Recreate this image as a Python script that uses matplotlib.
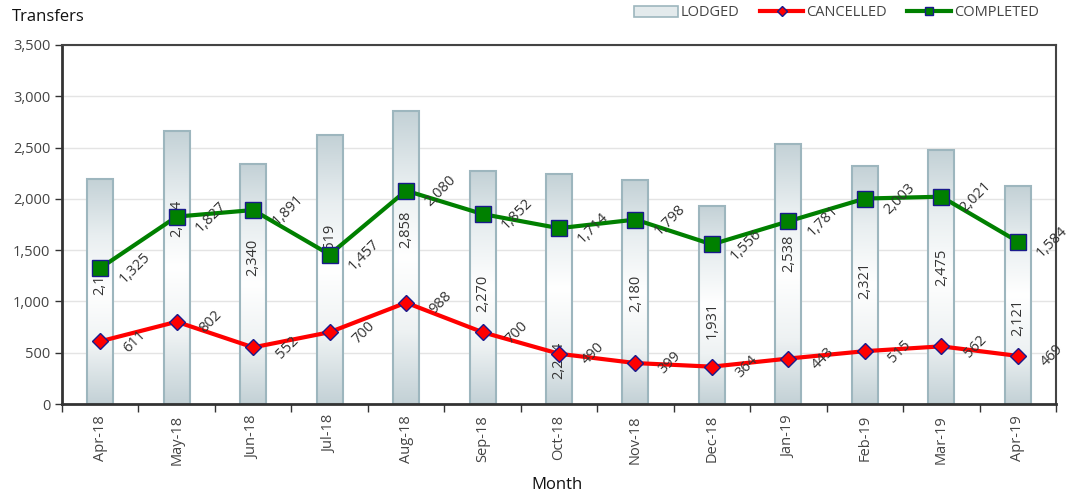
import numpy as np
import matplotlib
matplotlib.use("Agg")
import matplotlib.pyplot as plt
from matplotlib.colors import LinearSegmentedColormap
from matplotlib.lines import Line2D
from matplotlib.patches import Patch

plt.rcParams['font.family'] = ['Open Sans', 'DejaVu Sans']

months = ["Apr-18", "May-18", "Jun-18", "Jul-18", "Aug-18", "Sep-18", "Oct-18",
          "Nov-18", "Dec-18", "Jan-19", "Feb-19", "Mar-19", "Apr-19"]
lodged = [2198, 2664, 2340, 2619, 2858, 2270, 2244, 2180, 1931, 2538, 2321, 2475, 2121]
cancelled = [611, 802, 552, 700, 988, 700, 490, 399, 364, 443, 515, 562, 469]
completed = [1325, 1827, 1891, 1457, 2080, 1852, 1714, 1798, 1556, 1781, 2003, 2021, 1584]

# where the bar value labels sit inside the bars (data units, label centre)
bar_label_pos = [1240, 1810, 1430, 1580, 1700, 1080, 430, 1080, 820, 1470, 1210, 1330, 840]

x = np.arange(len(months))

fig = plt.figure(figsize=(10.7, 4.93), dpi=100)
ax = fig.add_axes([62 / 1070, 1 - 404 / 493, (1056 - 62) / 1070, (404 - 45) / 493])

# bars with a vertical gradient (dark - white - dark)
bar_cmap = LinearSegmentedColormap.from_list(
    "lodged", ["#c3d1d6", "#eef2f3", "#ffffff", "#e8eef0", "#c3d1d6"])
bars = ax.bar(x, lodged, width=0.34, color="none", edgecolor="#9db6be",
              linewidth=1.5, zorder=2)
grad = np.linspace(0, 1, 256).reshape(-1, 1)
for b in bars:
    x0, y0 = b.get_x(), b.get_y()
    w, h = b.get_width(), b.get_height()
    im = ax.imshow(grad, cmap=bar_cmap, aspect="auto", origin="lower",
                   extent=[x0, x0 + w, y0, y0 + h], zorder=1.5)
    im.set_clip_path(b)

ax.plot(x, cancelled, color="#ff0000", linewidth=3, marker="D", markersize=8,
        markerfacecolor="#ff0000", markeredgecolor="#1a1a8c", markeredgewidth=1,
        zorder=4)
ax.plot(x, completed, color="#008000", linewidth=3, marker="s", markersize=11,
        markerfacecolor="#008000", markeredgecolor="#1a1a8c", markeredgewidth=1,
        zorder=4)

# value labels
for i, v in enumerate(lodged):
    ax.text(i, bar_label_pos[i], f"{v:,}", rotation=90, ha="center", va="center",
            fontsize=10.5, color="#333333", zorder=3)
for i, v in enumerate(cancelled):
    ax.text(i + 0.45, v, f"{v:,}", rotation=45, ha="center", va="center",
            fontsize=10.5, color="#333333", zorder=5)
for i, v in enumerate(completed):
    ax.text(i + 0.45, v, f"{v:,}", rotation=45, ha="center", va="center",
            fontsize=10.5, color="#333333", zorder=5)

ax.set_xlim(-0.5, len(months) - 0.5)
ax.set_ylim(0, 3500)
ax.set_yticks(np.arange(0, 3501, 500))
ax.set_yticklabels([f"{t:,}" for t in range(0, 3501, 500)], fontsize=10.5,
                   color="#444444")
ax.set_xticks(x)
ax.set_xticklabels(months, rotation=90, fontsize=10.5, color="#444444")
ax.set_xticks(np.arange(-0.5, len(months)), minor=True)
ax.tick_params(axis="x", which="major", length=0, pad=8)
ax.tick_params(axis="x", which="minor", length=6, width=1, color="#333333")
ax.tick_params(axis="y", length=5, width=1, color="#333333")
ax.grid(axis="y", color="#e4e4e4", linewidth=1, zorder=0)
ax.set_axisbelow(True)

for side in ["left", "bottom"]:
    ax.spines[side].set_linewidth(2)
    ax.spines[side].set_color("#333333")
for side in ["top", "right"]:
    ax.spines[side].set_linewidth(1.5)
    ax.spines[side].set_color("#444444")

fig.text(557 / 1070, 1 - 485 / 493, "Month", fontsize=12, color="#111111",
         ha="center", va="center")
fig.text(12 / 1070, 1 - 17 / 493, "Transfers", fontsize=12, color="#111111",
         ha="left", va="center")

handles = [
    Patch(facecolor="#e3eaec", edgecolor="#9db6be", linewidth=1.2),
    Line2D([0], [0], color="#ff0000", linewidth=3, marker="D", markersize=5,
           markerfacecolor="#ff0000", markeredgecolor="#1a1a8c"),
    Line2D([0], [0], color="#008000", linewidth=3, marker="s", markersize=6,
           markerfacecolor="#008000", markeredgecolor="#1a1a8c"),
]
fig.legend(handles, ["LODGED", "CANCELLED", "COMPLETED"], loc="center right",
           bbox_to_anchor=(1052 / 1070, 1 - 13 / 493), ncol=3, frameon=False,
           fontsize=10.5, handlelength=3.0, handletextpad=0.2, columnspacing=1.4,
           labelcolor="#444444")

fig.savefig("out.png", dpi=100)
